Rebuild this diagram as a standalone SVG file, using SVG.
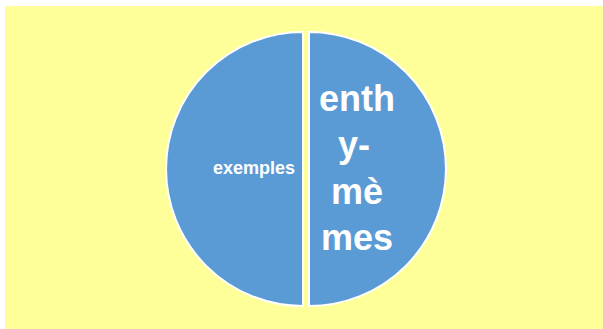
<svg xmlns="http://www.w3.org/2000/svg" width="603" height="329" viewBox="0 0 603 329">
<style>
.half{fill:#5B9BD5;stroke:#FFFFFF;stroke-width:2}
.t{fill:#FFFFFF;font-family:"Liberation Sans",Arial,sans-serif;font-weight:bold}
</style>
<rect x="0" y="0" width="603" height="329" fill="#FFFFFF"/>
<rect x="5" y="6" width="598" height="323" fill="#FFFF99"/>
<g id="node-exemples">
<path class="half" d="M303,32 A137,137 0 0 0 303,306 Z"/>
<text class="t" x="295" y="174" font-size="18" text-anchor="end">exemples</text>
</g>
<g id="node-enthymemes">
<path class="half" d="M309,32 A137,137 0 0 1 309,306 Z"/>
<text class="t" font-size="36" text-anchor="middle"><tspan x="357" y="111">enth</tspan><tspan x="354" y="157">y-</tspan><tspan x="357" y="204">mè</tspan><tspan x="357" y="250">mes</tspan></text>
</g>
<g id="connectors"/>
</svg>
